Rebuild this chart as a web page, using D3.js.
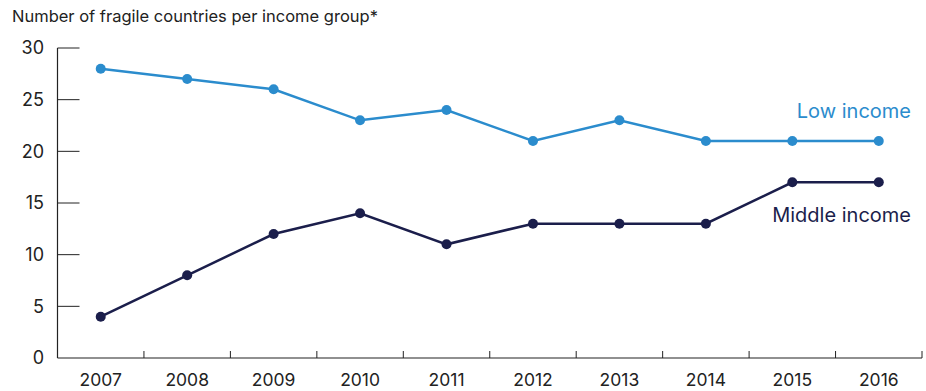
<!DOCTYPE html>
<html><head><meta charset="utf-8">
<script src="https://cdn.jsdelivr.net/npm/d3@7"></script>
<style>body{margin:0;background:#fff}svg{display:block;font-family:Inter,"Noto Sans",sans-serif}</style>
</head><body><svg id="c" width="926" height="391"></svg>
<script>
const years = ["2007","2008","2009","2010","2011","2012","2013","2014","2015","2016"];
const lowIncome = [28,27,26,23,24,21,23,21,21,21];
const middleIncome = [4,8,12,14,11,13,13,13,17,17];
const yTicks = [0,5,10,15,20,25,30];
const title = "Number of fragile countries per income group*";
const seriesNames = ["Low income","Middle income"];
const colors = ["#2b8ccd","#1b1e4b"];

const svg = d3.select("#c");
const L = 57.5, R = 922, T = 48, B = 358;
const x = d3.scaleBand().domain(years).range([L, R]).padding(0);
const y = d3.scaleLinear().domain([0,30]).range([B, T]);

svg.append("text").attr("x", 12).attr("y", 22).attr("font-size", 16.5).attr("fill", "#222").text(title);

// y axis
const ya = svg.append("g");
ya.append("line").attr("x1", L).attr("x2", L).attr("y1", y(30)).attr("y2", B).attr("stroke", "#222").attr("stroke-width", 1.2);
yTicks.forEach(t => {
  if (t > 0) ya.append("line").attr("x1", L).attr("x2", L + 22).attr("y1", y(t)).attr("y2", y(t)).attr("stroke", "#222").attr("stroke-width", 1);
  ya.append("text").attr("x", 44).attr("y", y(t)).attr("dy", "0.36em").attr("text-anchor", "end").attr("font-size", 18).attr("fill", "#222").text(t);
});

// x axis
const xa = svg.append("g");
xa.append("line").attr("x1", L).attr("x2", R).attr("y1", B).attr("y2", B).attr("stroke", "#222").attr("stroke-width", 1.2);
years.forEach((yr, i) => {
  const bx = x(yr) + x.bandwidth();
  xa.append("line").attr("x1", bx).attr("x2", bx).attr("y1", B).attr("y2", B - 7).attr("stroke", "#222").attr("stroke-width", 1);
  xa.append("text").attr("x", x(yr) + x.bandwidth()/2).attr("y", 386).attr("text-anchor", "middle").attr("font-size", 17.5).attr("fill", "#222").text(yr);
});

const cx = d => x(d) + x.bandwidth()/2;
const line = d3.line().x((d,i) => cx(years[i])).y(d => y(d));
[lowIncome, middleIncome].forEach((s, k) => {
  svg.append("path").datum(s).attr("d", line).attr("fill", "none").attr("stroke", colors[k]).attr("stroke-width", 2.5);
  svg.selectAll(null).data(s).enter().append("circle").attr("cx", (d,i) => cx(years[i])).attr("cy", d => y(d)).attr("r", 5).attr("fill", colors[k]);
});

svg.append("text").attr("x", 911).attr("y", y(21) - 23).attr("text-anchor", "end").attr("font-size", 20).attr("fill", colors[0]).text(seriesNames[0]);
svg.append("text").attr("x", 911).attr("y", y(17) + 40).attr("text-anchor", "end").attr("font-size", 20).attr("fill", colors[1]).text(seriesNames[1]);
</script></body></html>
